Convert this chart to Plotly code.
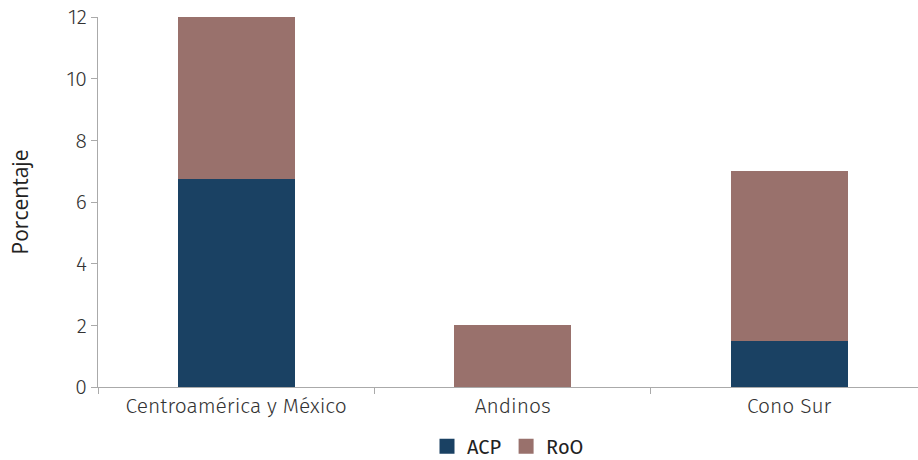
import plotly.graph_objects as go

categories = ["Centroamérica y México", "Andinos", "Cono Sur"]
acp = [6.75, 0, 1.5]
roo = [5.25, 2, 5.5]
y_ticks = [0, 2, 4, 6, 8, 10, 12]
series_names = ["ACP", "RoO"]
series_colors = ["#1a4163", "#99716c"]

fig = go.Figure()
for vals, name, col in zip([acp, roo], series_names, series_colors):
    fig.add_trace(go.Bar(x=categories, y=vals, name=name, marker=dict(color=col, line=dict(width=0)),
                         width=0.423, showlegend=False))
# legend entries with larger square symbols
for name, col in zip(series_names, series_colors):
    fig.add_trace(go.Scatter(x=[None], y=[None], mode="markers", name=name,
                             marker=dict(symbol="square", size=15, color=col)))

font_family = "Fira Sans, Open Sans, Noto Sans, sans-serif"
tick_font = dict(family=font_family, size=21, color="#333333", weight=300)
fig.update_layout(
    barmode="stack",
    width=918, height=460,
    margin=dict(l=98, r=0, t=17, b=73),
    plot_bgcolor="white", paper_bgcolor="white",
    font=dict(family=font_family, size=16, color="#333333"),
    legend=dict(orientation="h", x=0.5, xanchor="center", xref="paper",
                y=0.03, yanchor="middle", yref="container", itemwidth=30,
                font=dict(family=font_family, size=20, color="#222222", weight=400), traceorder="normal"),
    xaxis=dict(range=[-0.5, 2.466], showline=True, linecolor="#aaaaaa", linewidth=1,
               ticks="outside", tickson="boundaries", ticklen=6, tickcolor="#aaaaaa",
               showgrid=False, tickfont=tick_font),
    yaxis=dict(range=[0, 12], tickvals=y_ticks, showline=True, linecolor="#aaaaaa", linewidth=1,
               ticks="outside", ticklen=6, tickcolor="#aaaaaa", showgrid=False, zeroline=False,
               tickfont=tick_font,
               title=dict(text="Porcentaje", font=dict(family="Open Sans, sans-serif", size=21, color="#222222"), standoff=32)),
)
fig.write_html("out.html")
